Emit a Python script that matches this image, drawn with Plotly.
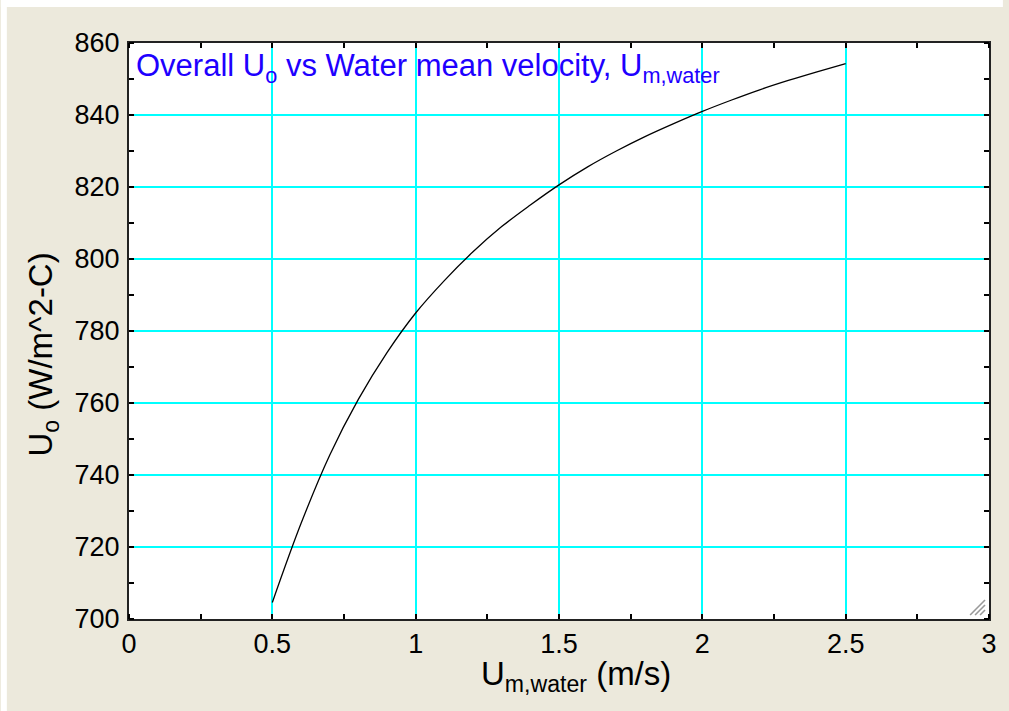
import plotly.graph_objects as go

# Water mean velocity (m/s) and overall heat transfer coefficient (W/m^2-C)
velocity = [0.5, 0.6, 0.7, 0.8, 0.9, 1.0, 1.1, 1.2, 1.3, 1.4, 1.5,
            1.6, 1.7, 1.8, 1.9, 2.0, 2.1, 2.2, 2.3, 2.4, 2.5]
u_overall = [704.6, 726.5, 745.5, 761.0, 774.0, 785.0, 794.0, 802.0, 809.0, 815.0, 820.6,
             825.6, 830.0, 834.0, 837.6, 841.0, 844.1, 847.0, 849.6, 852.0, 854.3]

x_ticks = [0, 0.5, 1, 1.5, 2, 2.5, 3]
x_tick_text = ["0", "0.5", "1", "1.5", "2", "2.5", "3"]
y_ticks = [700, 720, 740, 760, 780, 800, 820, 840, 860]

BEIGE = "#ECE9DC"
CYAN = "#00FFFF"
FONT = "Liberation Sans, Arial, sans-serif"

W, H = 1009, 711
L, R, T, B = 129, 14, 43, 92
pw, ph = W - L - R, H - T - B


def px_x(x):
    return (x - L) / pw


def px_y(y):
    return 1 - (y - T) / ph


fig = go.Figure()
fig.add_trace(go.Scatter(
    x=velocity, y=u_overall, mode="lines",
    line=dict(color="black", width=1.3, shape="spline"),
    showlegend=False, hoverinfo="skip",
))

axis_common = dict(
    showline=True, linecolor="#222222", linewidth=2, mirror="ticks",
    showgrid=True, gridcolor=CYAN, gridwidth=1.6,
    zeroline=False, ticks="", ticklen=0,
    tickfont=dict(family=FONT, size=27, color="black"),
)

fig.update_xaxes(
    range=[0, 3], tickvals=x_ticks, ticktext=x_tick_text,
    minor=dict(ticks="inside", ticklen=5, tickcolor="black", tickwidth=1.5,
               dtick=0.25, tick0=0, showgrid=False),
    **axis_common,
)
fig.update_yaxes(
    range=[700, 860], tickvals=y_ticks, ticklabelstandoff=2,
    minor=dict(ticks="inside", ticklen=5, tickcolor="black", tickwidth=1.5,
               dtick=10, tick0=700, showgrid=False),
    **axis_common,
)

shapes = [
    # white strips along the top and left edges of the page
    dict(type="rect", xref="paper", yref="paper", layer="below",
         x0=px_x(0), x1=px_x(W), y0=px_y(7), y1=px_y(0),
         fillcolor="white", line=dict(width=0)),
    dict(type="rect", xref="paper", yref="paper", layer="below",
         x0=px_x(0), x1=px_x(6), y0=px_y(H), y1=px_y(0),
         fillcolor="white", line=dict(width=0)),
]
# resize grip in the lower-right corner
for k in range(3):
    off = 5 * k
    shapes.append(dict(
        type="line", xref="paper", yref="paper",
        x0=px_x(976 + off), y0=px_y(615),
        x1=px_x(991), y1=px_y(600 + off),
        line=dict(color="#9A9A9A", width=1.6),
    ))

title_font = dict(family=FONT, size=33, color="black")

fig.update_layout(
    width=W, height=H,
    margin=dict(l=L, r=R, t=T, b=B),
    paper_bgcolor=BEIGE, plot_bgcolor="white",
    shapes=shapes,
    annotations=[
        dict(text="Overall U<sub>o</sub> vs Water mean velocity, U<sub>m,water</sub>",
             xref="paper", yref="paper", x=px_x(134), y=px_y(68),
             xanchor="left", yanchor="middle", showarrow=False,
             font=dict(family=FONT, size=31, color="#1E00FF")),
        dict(text="U<sub>m,water</sub> (m/s)",
             xref="paper", yref="paper", x=px_x(579), y=px_y(676),
             xanchor="center", yanchor="middle", showarrow=False,
             font=title_font),
        dict(text="U<sub>o</sub> (W/m^2-C)", textangle=-90,
             xref="paper", yref="paper", x=px_x(42), y=px_y(355),
             xanchor="center", yanchor="middle", showarrow=False,
             font=title_font),
    ],
)

fig.write_html("out.html")
